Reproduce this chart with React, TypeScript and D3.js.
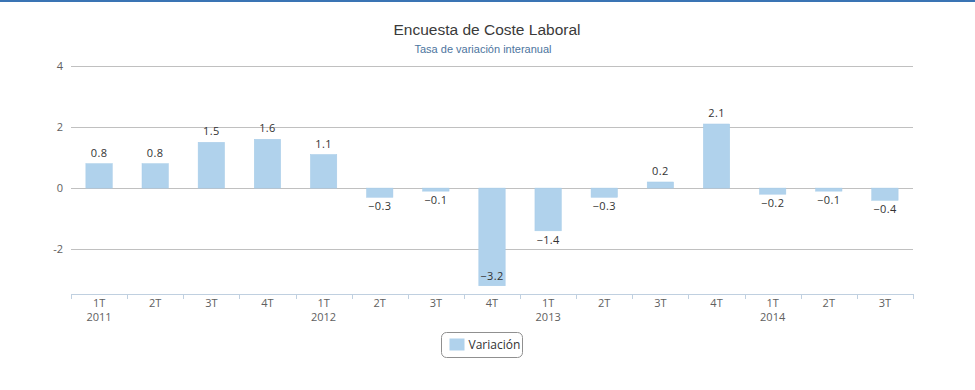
import React, { useEffect, useRef } from 'react';
import * as d3 from 'd3';

const quarters = ['1T', '2T', '3T', '4T', '1T', '2T', '3T', '4T', '1T', '2T', '3T', '4T', '1T', '2T', '3T'];
const years = ['2011', '', '', '', '2012', '', '', '', '2013', '', '', '', '2014', '', ''];
const variacion = [0.8, 0.8, 1.5, 1.6, 1.1, -0.3, -0.1, -3.2, -1.4, -0.3, 0.2, 2.1, -0.2, -0.1, -0.4];
const yTicks = [-2, 0, 2, 4];

const W = 975;
const H = 390;

const App: React.FC = () => {
  const svgRef = useRef<SVGSVGElement>(null);

  useEffect(() => {
    if (!svgRef.current) return;
    document.body.style.margin = '0';

    const svg = d3.select(svgRef.current);
    svg.selectAll('*').remove();

    const margin = { top: 66, right: 62, bottom: 96, left: 71 };
    const innerW = W - margin.left - margin.right;
    const innerH = H - margin.top - margin.bottom;

    const font = '"Open Sans", "DejaVu Sans", sans-serif';

    // top accent line
    svg.append('rect')
      .attr('x', 0).attr('y', 0)
      .attr('width', W).attr('height', 2)
      .attr('fill', '#3a74b4');

    // titles
    svg.append('text')
      .attr('x', 487).attr('y', 35)
      .attr('text-anchor', 'middle')
      .style('font-family', '"Liberation Sans", Arial, sans-serif')
      .style('font-size', '15.5px')
      .style('fill', '#3a3a3a')
      .text('Encuesta de Coste Laboral');

    svg.append('text')
      .attr('x', 483).attr('y', 53)
      .attr('text-anchor', 'middle')
      .style('font-family', '"Liberation Sans", Arial, sans-serif')
      .style('font-size', '11px')
      .style('fill', '#4d759e')
      .text('Tasa de variación interanual');

    const g = svg.append('g')
      .attr('transform', `translate(${margin.left},${margin.top})`);

    const x = d3.scaleBand<number>()
      .domain(d3.range(variacion.length))
      .range([0, innerW])
      .paddingInner(0.53)
      .paddingOuter(0.265);

    const y = d3.scaleLinear()
      .domain([-3.47, 4])
      .range([innerH, 0]);

    // grid lines
    g.selectAll('.grid')
      .data(yTicks)
      .enter()
      .append('line')
      .attr('x1', 0)
      .attr('x2', innerW)
      .attr('y1', d => Math.round(y(d)) + 0.5)
      .attr('y2', d => Math.round(y(d)) + 0.5)
      .attr('stroke', '#c0c0c0')
      .attr('stroke-width', 1);

    // y labels
    g.selectAll('.ylab')
      .data(yTicks)
      .enter()
      .append('text')
      .attr('x', -8)
      .attr('y', d => y(d) + 4)
      .attr('text-anchor', 'end')
      .style('font-family', font)
      .style('font-size', '11px')
      .style('fill', '#606060')
      .text(d => (d < 0 ? '-' + Math.abs(d) : String(d)));

    // bars
    g.selectAll('.bar')
      .data(variacion)
      .enter()
      .append('rect')
      .attr('x', (_, i) => x(i) as number)
      .attr('width', x.bandwidth())
      .attr('y', d => y(Math.max(0, d)))
      .attr('height', d => Math.abs(y(d) - y(0)))
      .attr('fill', '#b0d2ec')
      .attr('stroke', '#a6cbe8')
      .attr('stroke-width', 0.5);

    // data labels
    g.selectAll('.dl')
      .data(variacion)
      .enter()
      .append('text')
      .attr('x', (_, i) => (x(i) as number) + x.bandwidth() / 2)
      .attr('y', d => {
        if (d >= 0) return y(d) - 7;
        const below = y(d) + 13;
        return below > innerH - 2 ? y(d) - 6 : below;
      })
      .attr('text-anchor', 'middle')
      .style('font-family', font)
      .style('font-size', '11px')
      .style('letter-spacing', '0.4px')
      .style('fill', '#333333')
      .text(d => (d < 0 ? '\u2212' + Math.abs(d).toFixed(1) : d.toFixed(1)));

    // x axis
    const xAxis = g.append('g').attr('transform', `translate(0,${innerH})`);
    xAxis.append('line')
      .attr('x1', 0).attr('x2', innerW)
      .attr('y1', 0.5).attr('y2', 0.5)
      .attr('stroke', '#c0d0e0');

    const step = innerW / variacion.length;
    xAxis.selectAll('.tick')
      .data(d3.range(variacion.length + 1))
      .enter()
      .append('line')
      .attr('x1', d => Math.round(d * step) + 0.5)
      .attr('x2', d => Math.round(d * step) + 0.5)
      .attr('y1', 0)
      .attr('y2', 5)
      .attr('stroke', '#c0d0e0');

    xAxis.selectAll('.q')
      .data(quarters)
      .enter()
      .append('text')
      .attr('x', (_, i) => (x(i) as number) + x.bandwidth() / 2)
      .attr('y', 13)
      .attr('text-anchor', 'middle')
      .style('font-family', font)
      .style('font-size', '11px')
      .style('fill', '#606060')
      .text(d => d);

    xAxis.selectAll('.yr')
      .data(years)
      .enter()
      .append('text')
      .attr('x', (_, i) => (x(i) as number) + x.bandwidth() / 2)
      .attr('y', 27)
      .attr('text-anchor', 'middle')
      .style('font-family', font)
      .style('font-size', '11px')
      .style('fill', '#606060')
      .text(d => d);

    // legend
    const legend = svg.append('g').attr('transform', 'translate(441.5,332.5)');
    legend.append('rect')
      .attr('width', 81).attr('height', 25)
      .attr('rx', 5)
      .attr('fill', '#ffffff')
      .attr('stroke', '#909090');
    legend.append('rect')
      .attr('x', 8).attr('y', 6)
      .attr('width', 15).attr('height', 12)
      .attr('fill', '#b0d2ec');
    legend.append('text')
      .attr('x', 27).attr('y', 16.5)
      .style('font-family', font)
      .style('font-size', '12px')
      .style('fill', '#333333')
      .text('Variación');
  }, []);

  return <svg ref={svgRef} width={W} height={H} style={{ display: 'block' }} />;
};

export default App;
